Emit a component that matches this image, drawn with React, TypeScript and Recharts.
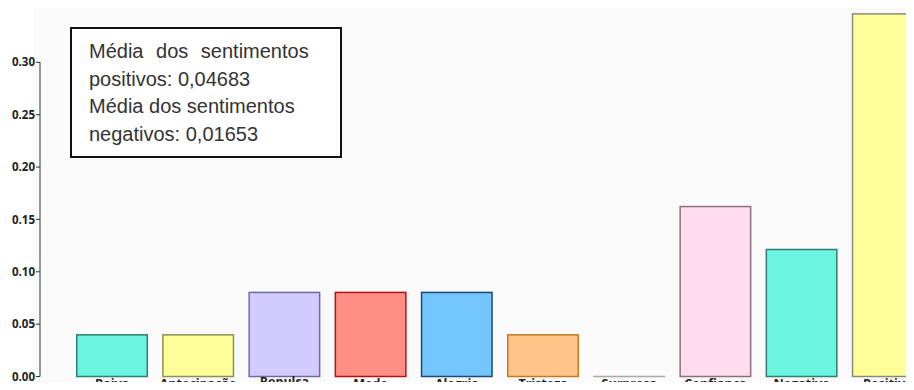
import { BarChart, Bar, XAxis, YAxis, Cell } from "recharts";

// Sentiment scores per category
const categories = [
  "Raiva",
  "Antecipação",
  "Repulsa",
  "Medo",
  "Alegria",
  "Tristeza",
  "Surpresa",
  "Confianca",
  "Negativo",
  "Positivo",
];
const scores = [0.0405, 0.0405, 0.081, 0.081, 0.081, 0.0405, 0, 0.163, 0.122, 0.347];
const yTicks = [0, 0.05, 0.1, 0.15, 0.2, 0.25, 0.3];

const legendLines = [
  "Média dos sentimentos",
  "positivos: 0,04683",
  "Média dos sentimentos",
  "negativos: 0,01653",
];

// fill / border per bar
const fills = [
  "#6af5e0",
  "#ffff99",
  "#d2cbff",
  "#ff8f85",
  "#74c6ff",
  "#ffc487",
  "#cccccc",
  "#ffdcee",
  "#6af5e0",
  "#ffff99",
];
const strokes = [
  "#2f7f72",
  "#8f8f55",
  "#6f6a99",
  "#b81010",
  "#1b4a75",
  "#c27a22",
  "#aaaaaa",
  "#8a7080",
  "#2f7f72",
  "#8a8a7a",
];

const data = categories.map((name, i) => ({ name, value: scores[i] }));

const BarShape = (props: any) => {
  const { x, y, width, height, index } = props;
  if (!height) {
    return (
      <line x1={x} x2={x + width} y1={y} y2={y} stroke={strokes[index]} strokeWidth={1.5} />
    );
  }
  return (
    <rect
      x={x + 0.75}
      y={y + 0.75}
      width={width - 1.5}
      height={height - 0.75}
      fill={fills[index]}
      stroke={strokes[index]}
      strokeWidth={1.5}
    />
  );
};

const CategoryTick = (props: any) => {
  const { x, y, payload } = props;
  // "Repulsa" sits a little higher in the original
  const lift = payload.value === "Repulsa" ? -2 : 0;
  return (
    <text
      x={x}
      y={y + lift}
      dy="0.71em"
      textAnchor="middle"
      fontFamily="'Open Sans', sans-serif"
      fontWeight={700}
      fontSize={12.5}
      fill="#222"
    >
      {payload.value}
    </text>
  );
};

export default function App() {
  return (
    <div
      style={{
        position: "relative",
        width: 914,
        height: 390,
        margin: -8,
        overflow: "hidden",
        background: "#fff",
      }}
    >
      <div
        style={{
          position: "absolute",
          left: 33,
          top: 3,
          right: 0,
          bottom: 0,
          background: "#fafafa",
        }}
      />
      <div style={{ position: "absolute", left: 0, top: 0 }}>
        <BarChart
          width={940}
          height={390}
          data={data}
          margin={{ top: 10, right: 9, bottom: 0, left: 0 }}
          barSize={72}
        >
          <XAxis
            dataKey="name"
            height={13.5}
            axisLine={false}
            tickLine={false}
            tickSize={0}
            tickMargin={3}
            padding={{ left: 29, right: 0 }}
            interval={0}
            tick={<CategoryTick />}
          />
          <YAxis
            width={40}
            domain={[0, 0.35]}
            ticks={yTicks}
            tickFormatter={(v: number) => v.toFixed(2)}
            tickSize={4}
            tickMargin={1}
            axisLine={{ stroke: "#333", strokeDasharray: "0 52 400" }}
            tickLine={{ stroke: "#333" }}
            tick={{
              fontFamily: "'Open Sans', sans-serif",
              fontWeight: 700,
              fontSize: 11.5,
              fill: "#222",
            }}
          />
          <Bar dataKey="value" isAnimationActive={false} shape={BarShape}>
            {data.map((d, i) => (
              <Cell key={d.name} fill={fills[i]} />
            ))}
          </Bar>
        </BarChart>
      </div>
      <div
        style={{
          position: "absolute",
          left: 70,
          top: 27,
          width: 268,
          height: 127,
          border: "2px solid #111",
          background: "#fff",
          fontFamily: "'Liberation Sans', Arial, sans-serif",
          fontSize: 20,
          color: "#333",
          boxSizing: "content-box",
        }}
      >
        {legendLines.map((line, i) => (
          <div
            key={i}
            style={{
              position: "absolute",
              left: 17,
              top: 8 + i * 27.5,
              lineHeight: "28px",
              whiteSpace: "nowrap",
              wordSpacing: i === 0 ? 7 : 0,
            }}
          >
            {line}
          </div>
        ))}
      </div>
    </div>
  );
}
